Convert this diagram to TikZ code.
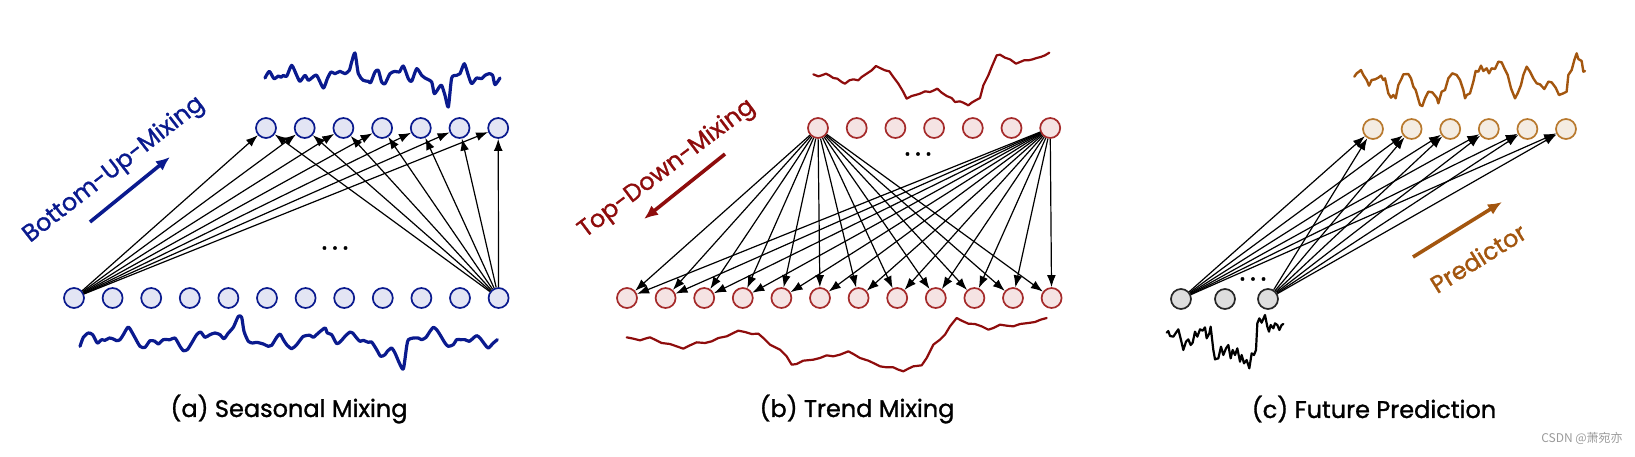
\documentclass[tikz,border=0pt]{standalone}
\usepackage{fontspec}
\setmainfont{Poppins}[FakeBold=1.2]
\newfontfamily\cjk{Noto Sans CJK SC}
\usepackage{xcolor}
\usetikzlibrary{arrows.meta}
\definecolor{SeasBlue}{HTML}{0A1A8E}
\definecolor{SeasFill}{HTML}{E3E5F4}
\definecolor{TrendRed}{HTML}{8E0C0C}
\definecolor{TrendEdge}{HTML}{A52A2A}
\definecolor{TrendFill}{HTML}{F5E3E3}
\definecolor{PredBrown}{HTML}{A3560F}
\definecolor{PredEdge}{HTML}{B8792E}
\definecolor{PredFill}{HTML}{F4ECE2}
\definecolor{PastFill}{HTML}{DEDEDE}
\definecolor{MarkGray}{HTML}{9A9A9A}
\tikzset{
  unit/.style={circle, minimum size=10pt, inner sep=0pt, line width=0.85pt},
  sdot/.style={unit, draw=SeasBlue, fill=SeasFill},
  tdot/.style={unit, draw=TrendEdge, fill=TrendFill},
  pdot/.style={unit, draw=PredEdge, fill=PredFill},
  xdot/.style={unit, draw=black!85, fill=PastFill},
  arr/.style={-{Latex[length=6pt,width=4.4pt]}, line width=0.6pt},
  bigarr/.style={-{Latex[length=7pt,width=6pt]}, line width=1.8pt},
  wave/.style={line join=round, line cap=round},
  mixlbl/.style={font=\fontsize{12}{14}\selectfont, inner sep=0pt},
  capt/.style={font=\fontsize{12}{14}\selectfont},
  ellip/.style={font=\fontsize{14}{14}\selectfont, inner sep=0pt},
}

\begin{document}
\begin{tikzpicture}[x=0.5pt,y=-0.5pt]
  \useasboundingbox (0,0) rectangle (1635,456);

  % (a) seasonal mixing
  \foreach \i in {1,...,12} \node[sdot] (sa\i) at ({74+(\i-1)*38.6},298) {};
  \foreach \i in {1,...,7} \node[sdot] (ta\i) at ({266+(\i-1)*38.7},128) {};
  \foreach \i in {1,...,7} {
    \draw[arr] (sa1) -- (ta\i);
    \draw[arr] (sa12) -- (ta\i);
  }
  \node[ellip] (dotsa) at (335,248) {.\,.\,.};
  \node[mixlbl, text=SeasBlue, rotate=38] (bulbl) at (114,170) {Bottom-Up-Mixing};
  \coordinate (bufrom) at (90,222);
  \coordinate (buto) at (170,157);
  \draw[bigarr, SeasBlue] (bufrom) -- (buto);
  \begin{scope}[shift={(250,42)}, scale=1/3]
    \draw[wave, SeasBlue, line width=1.6pt] plot[smooth, tension=0.4] coordinates {
      (45,108) (58,88) (72,110) (85,102) (93,106) (100,100) (110,103) (125,70)
      (140,100) (150,118) (165,100) (175,115) (185,108) (200,100) (220,138)
      (232,110) (243,90) (255,95) (270,88) (285,95) (298,85) (305,60) (315,33)
      (325,95) (340,115) (355,118) (362,122) (375,90) (385,85) (395,120)
      (405,125) (420,95) (435,88) (448,90) (460,72) (475,110) (485,118)
      (500,80) (515,100) (525,108) (545,120) (553,155) (568,135) (575,130)
      (585,160) (595,195) (605,108) (620,100) (630,95) (643,65) (655,100)
      (665,125) (680,108) (695,110) (705,100) (718,95) (728,100) (735,128)
      (750,108)};
  \end{scope}
  \begin{scope}[shift={(70,308)}, scale=1/3]
    \draw[wave, SeasBlue, line width=1.6pt] plot[smooth, tension=0.4] coordinates {
      (30,115) (40,88) (55,75) (68,80) (82,105) (95,95) (105,97) (118,90)
      (130,93) (140,98) (150,95) (160,80) (175,57) (190,80) (210,115) (225,118)
      (240,98) (255,100) (265,108) (280,95) (300,95) (315,90) (330,115)
      (340,128) (352,125) (365,105) (380,80) (392,72) (405,88) (420,80)
      (435,75) (450,80) (462,92) (475,75) (490,58) (505,25) (515,28) (522,70)
      (535,100) (548,105) (560,103) (580,108) (595,115) (605,112) (620,88)
      (630,78) (640,95) (650,110) (665,122) (680,110) (700,85) (720,82)
      (730,88) (745,75) (765,60) (772,75) (785,80) (800,107) (812,100)
      (825,85) (840,72) (848,75) (860,90) (870,100) (880,97) (895,103)
      (905,102) (920,125) (932,145) (945,140) (952,130) (965,120) (975,135)
      (988,165) (1000,183) (1010,115) (1015,95) (1030,90) (1045,90) (1055,95)
      (1068,88) (1080,70) (1090,58) (1100,65) (1110,80) (1125,105) (1135,115)
      (1150,110) (1160,95) (1172,95) (1185,95) (1198,100) (1210,90) (1220,83)
      (1230,90) (1245,110) (1255,120) (1270,105) (1282,95)};
  \end{scope}
  \node[capt] (capa) at (289,409) {(a) Seasonal Mixing};

  % (b) trend mixing
  \foreach \i in {1,...,7} \node[tdot] (tb\i) at ({818+(\i-1)*38.7},128) {};
  \foreach \i in {1,...,12} \node[tdot] (bb\i) at ({627+(\i-1)*38.6},298) {};
  \foreach \i in {1,...,12} {
    \draw[arr] (tb1) -- (bb\i);
    \draw[arr] (tb7) -- (bb\i);
  }
  \node[ellip] (dotsb) at (918,154) {.\,.\,.};
  \node[mixlbl, text=TrendRed, rotate=37] (tdlbl) at (667,169) {Top-Down-Mixing};
  \coordinate (tdfrom) at (725,154);
  \coordinate (tdto) at (644,219);
  \draw[bigarr, TrendRed] (tdfrom) -- (tdto);
  \begin{scope}[shift={(800,42)}, scale=1/3]
    \draw[wave, TrendRed, line width=1.1pt] plot coordinates {
      (40,97) (55,103) (65,100) (78,95) (88,100) (100,108) (112,110) (125,120)
      (135,125) (148,115) (160,112) (175,115) (185,105) (200,95) (215,85)
      (228,72) (240,78) (255,85) (268,88) (280,105) (295,125) (310,150)
      (320,170) (335,162) (350,158) (360,155) (375,148) (390,150) (402,145)
      (412,140) (425,152) (440,162) (455,168) (465,180) (480,178) (490,182)
      (505,190) (515,182) (525,176) (540,168) (550,130) (565,100) (575,75)
      (590,40) (600,38) (615,47) (630,52) (648,65) (660,60) (672,55) (685,55)
      (698,52) (710,48) (722,45) (735,40) (748,32)};
  \end{scope}
  \begin{scope}[shift={(620,308)}, scale=1/3]
    \draw[wave, TrendRed, line width=1.1pt] plot coordinates {
      (20,88) (40,92) (60,97) (75,92) (90,88) (105,95) (125,105) (150,108)
      (170,115) (190,122) (210,112) (230,103) (255,105) (275,100) (295,90)
      (320,85) (340,75) (355,68) (375,72) (395,78) (415,77) (430,90) (450,110)
      (480,125) (500,145) (515,170) (530,168) (550,158) (580,155) (600,150)
      (620,142) (640,145) (660,140) (685,130) (700,138) (720,150) (745,158)
      (760,165) (780,175) (800,178) (820,178) (835,185) (850,190) (865,182)
      (880,175) (905,172) (920,150) (940,110) (960,95) (975,80) (990,55)
      (1010,30) (1025,38) (1045,47) (1065,48) (1085,55) (1105,65) (1120,60)
      (1140,50) (1160,53) (1180,55) (1200,48) (1225,45) (1245,42) (1262,35)
      (1280,30)};
  \end{scope}
  \node[capt] (capb) at (857,409) {(b) Trend Mixing};

  % (c) future prediction
  \foreach \i in {1,...,6} \node[pdot] (tc\i) at ({1373+(\i-1)*38.6},129) {};
  \node[xdot] (bc1) at (1181,299) {};
  \node[xdot] (bc2) at (1225,299) {};
  \node[xdot] (bc3) at (1268,299) {};
  \foreach \i in {1,...,6} {
    \draw[arr] (bc1) -- (tc\i);
    \draw[arr] (bc3) -- (tc\i);
  }
  \node[ellip] (dotsc) at (1253,279) {.\,.\,.};
  \node[mixlbl, text=PredBrown, rotate=32] (prlbl) at (1478,258) {Predictor};
  \coordinate (prfrom) at (1413,257);
  \coordinate (prto) at (1502,202);
  \draw[bigarr, PredBrown] (prfrom) -- (prto);
  \begin{scope}[shift={(1345,45)}, scale=1/3]
    \draw[wave, PredBrown, line width=1.2pt] plot coordinates {
      (28,95) (35,85) (42,80) (48,75) (55,90) (65,105) (72,122) (80,105)
      (90,103) (100,98) (108,92) (115,105) (120,100) (130,145) (138,158)
      (145,150) (152,160) (160,120) (170,100) (175,88) (190,87) (198,100)
      (205,125) (212,135) (225,180) (232,183) (240,160) (250,140) (262,142)
      (275,158) (280,175) (290,140) (300,135) (310,100) (322,85) (335,90)
      (345,105) (355,135) (360,160) (365,150) (375,145) (385,110) (392,78)
      (400,80) (408,62) (415,78) (425,70) (432,85) (440,70) (450,72) (460,50)
      (470,52) (478,70) (488,90) (498,130) (510,160) (518,145) (528,120)
      (535,90) (545,65) (555,80) (565,100) (575,115) (585,118) (598,132)
      (610,110) (620,112) (632,128) (642,150) (655,145) (665,140) (670,90)
      (680,75) (688,45) (695,25) (700,42) (710,48) (715,80) (720,78)};
  \end{scope}
  \begin{scope}[shift={(1160,300)}, scale=1/3]
    \draw[wave, black, line width=1.1pt] plot coordinates {
      (20,98) (25,93) (30,108) (40,110) (48,98) (55,88) (63,120) (70,150)
      (78,125) (85,118) (92,135) (98,128) (105,95) (112,110) (120,88) (128,92)
      (135,82) (140,115) (148,100) (152,80) (160,150) (165,178) (175,175)
      (183,140) (190,165) (198,145) (205,135) (212,175) (218,150) (225,165)
      (232,145) (240,185) (245,165) (252,190) (260,180) (268,205) (275,160)
      (282,165) (288,150) (292,70) (298,55) (305,68) (315,45) (322,80)
      (327,95) (332,75) (340,85) (345,70) (352,75) (358,90) (365,75) (370,72)};
  \end{scope}
  \node[capt] (capc) at (1374,409) {(c) Future Prediction};

  \node[font=\cjk\fontsize{6}{7}\selectfont, text=MarkGray] (mark) at (1582,438) {CSDN @萧宛亦};
\end{tikzpicture}
\end{document}
